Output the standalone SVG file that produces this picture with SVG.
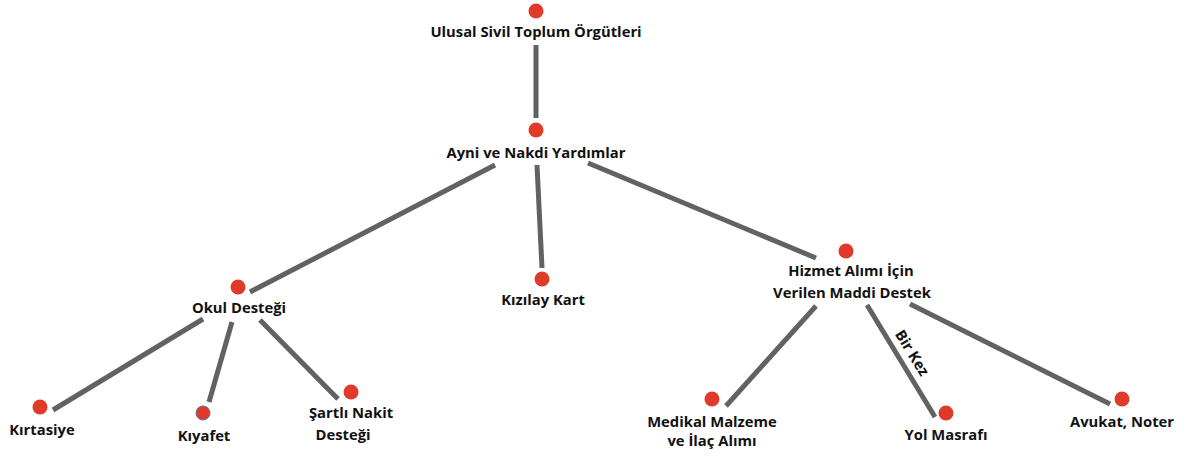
<svg xmlns="http://www.w3.org/2000/svg" width="1194" height="456" viewBox="0 0 1194 456">
<style>
.dot{fill:#e03a28}
.lbl{font-family:"Open Sans","Liberation Sans",sans-serif;font-weight:700;font-size:14.8px;fill:#111;text-anchor:middle}
.edge{stroke:#626262;stroke-width:5;fill:none}
</style>
<rect width="1194" height="456" fill="#fff"/>
<g id="connectors">
<line class="edge" x1="536" y1="45" x2="536" y2="118"/>
<line class="edge" x1="495" y1="165" x2="250" y2="292"/>
<line class="edge" x1="537" y1="165" x2="542" y2="268"/>
<line class="edge" x1="588" y1="163" x2="816" y2="258"/>
<line class="edge" x1="203" y1="319" x2="53" y2="410"/>
<line class="edge" x1="232" y1="322" x2="209" y2="402"/>
<line class="edge" x1="260" y1="320" x2="338" y2="399"/>
<line class="edge" x1="816" y1="306" x2="726" y2="406"/>
<line class="edge" x1="867" y1="305" x2="935" y2="417"/>
<line class="edge" x1="910" y1="304" x2="1110" y2="404"/>
<text class="lbl" transform="translate(912,353) rotate(58.5)" dy="5">Bir Kez</text>
</g>
<g id="n-root"><circle class="dot" cx="536" cy="11" r="7.5"/><text class="lbl" x="536" y="37">Ulusal Sivil Toplum Örgütleri</text></g>
<g id="n-ayni"><circle class="dot" cx="536" cy="130" r="7.5"/><text class="lbl" x="536" y="158">Ayni ve Nakdi Yardımlar</text></g>
<g id="n-okul"><circle class="dot" cx="238" cy="287" r="7.5"/><text class="lbl" x="239" y="313">Okul Desteği</text></g>
<g id="n-kizilay"><circle class="dot" cx="542" cy="279" r="7.5"/><text class="lbl" x="543" y="305">Kızılay Kart</text></g>
<g id="n-hizmet"><circle class="dot" cx="846" cy="251" r="7.5"/><text class="lbl" x="851" y="276">Hizmet Alımı İçin</text><text class="lbl" x="852" y="298">Verilen Maddi Destek</text></g>
<g id="n-kirtasiye"><circle class="dot" cx="40" cy="407" r="7.5"/><text class="lbl" x="42" y="435">Kırtasiye</text></g>
<g id="n-kiyafet"><circle class="dot" cx="203" cy="413" r="7" stroke="#5a74a8" stroke-width="1"/><text class="lbl" x="204" y="441">Kıyafet</text></g>
<g id="n-sartli"><circle class="dot" cx="351" cy="392" r="7.5"/><text class="lbl" x="351" y="418">Şartlı Nakit</text><text class="lbl" x="343" y="440">Desteği</text></g>
<g id="n-medikal"><circle class="dot" cx="712" cy="399" r="7.5"/><text class="lbl" x="712" y="427">Medikal Malzeme</text><text class="lbl" x="712" y="446">ve İlaç Alımı</text></g>
<g id="n-yol"><circle class="dot" cx="946" cy="413" r="7.5"/><text class="lbl" x="946" y="440">Yol Masrafı</text></g>
<g id="n-avukat"><circle class="dot" cx="1122" cy="399" r="7.5"/><text class="lbl" x="1122" y="427">Avukat, Noter</text></g>
</svg>
